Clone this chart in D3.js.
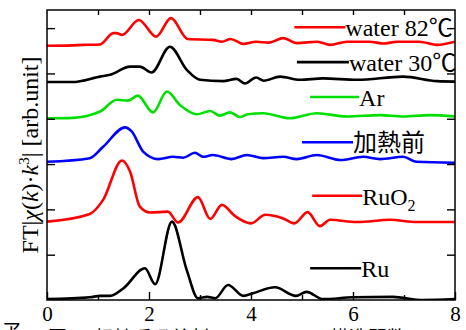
<!DOCTYPE html>
<html>
<head>
<meta charset="utf-8">
<script src="https://cdn.jsdelivr.net/npm/d3@7"></script>
<style>
  body { margin: 0; background: #fff; }
  svg { display: block; }
  text { font-family: "Liberation Serif", "Times New Roman", "Noto Sans CJK JP", serif; fill: #000; }
  .cjk { font-family: "Liberation Serif", "Noto Sans CJK JP", serif; }
</style>
</head>
<body>
<div id="chart"></div>
<script>
// r (Å) , FT magnitude (arb. unit, curves stacked with offsets as in the picture)
const water82 = [[0,5.61],[0.5,5.62],[0.71,5.63],[1.04,5.64],[1.3,5.89],[1.36,5.89],[1.47,5.85],[1.8,6.18],
  [2.14,5.81],[2.43,6.22],[2.76,5.76],[3.25,5.74],[3.43,5.7],[3.6,5.76],[3.85,5.65],[4.1,5.7],[4.35,5.68],
  [4.63,5.78],[4.9,5.67],[5.3,5.7],[5.55,5.63],[5.88,5.7],[6.33,5.7],[6.6,5.66],[6.86,5.7],[7.3,5.7],
  [7.65,5.63],[8,5.7]];
const water30 = [[0,4.81],[0.5,4.81],[1.04,4.93],[1.24,4.97],[1.63,5.15],[1.82,5.15],[2.05,5.02],[2.41,5.59],
  [2.74,5.08],[3.0,4.86],[3.45,4.83],[3.72,4.88],[3.88,4.78],[4.1,4.91],[4.25,4.84],[4.57,4.93],[4.96,4.86],
  [5.41,4.89],[6.08,4.86],[6.98,4.93],[7.65,4.83],[8,4.82]];
const argon = [[0,4.01],[0.5,4.02],[1.04,4.16],[1.37,4.42],[1.59,4.4],[1.78,4.51],[2.08,4.14],[2.35,4.6],
  [2.61,4.3],[2.94,4.1],[3.2,4.17],[3.39,4.07],[3.59,4.14],[3.78,4.04],[3.94,4.1],[4.24,4.12],[4.76,4.01],
  [5.29,4.12],[5.88,4.05],[6.53,4.08],[6.98,4.05],[7.5,4.08],[8,4.05]];
const beforeHeat = [[0,3.05],[0.84,3.13],[1.1,3.38],[1.53,3.81],[1.66,3.72],[1.89,3.27],[2.18,3.11],[2.47,3.16],
  [2.67,3.14],[2.9,3.25],[3.06,3.16],[3.25,3.2],[3.62,3.11],[3.92,3.2],[4.24,3.13],[4.63,3.16],[4.9,3.11],
  [5.29,3.2],[5.75,3.09],[6.2,3.16],[6.53,3.11],[6.98,3.16],[7.25,3.05],[8,3.03]];
const ruo2 = [[0,1.73],[0.84,1.9],[1.1,2.21],[1.47,3.08],[1.63,2.83],[1.82,2.06],[2.02,1.93],[2.37,1.95],
  [2.57,1.71],[2.96,2.27],[3.2,1.79],[3.43,2.1],[3.69,1.85],[4.0,1.69],[4.28,1.88],[4.63,1.8],[4.85,1.69],
  [5.11,1.94],[5.35,1.63],[5.55,1.77],[6.08,1.72],[6.73,1.77],[7.25,1.72],[8,1.72]];
const ru = [[0,0.02],[0.84,0.06],[1.04,0.09],[1.24,0.09],[1.5,0.26],[1.92,0.7],[2.12,0.35],[2.45,1.73],
  [2.74,0.66],[2.96,0.04],[3.14,0.07],[3.3,0.04],[3.55,0.33],[3.85,0.09],[4.04,0.15],[4.47,0.28],[4.88,0.09],
  [5.09,0.18],[5.41,0.02],[6.0,0.06],[6.78,0.07],[7.37,0.0],[8,0.02]];

const seriesNames = ['water 82℃', 'water 30℃', 'Ar', '加熱前', 'RuO2', 'Ru'];
const seriesData = [water82, water30, argon, beforeHeat, ruo2, ru];
const seriesColors = ['#ff0000', '#000000', '#00e000', '#0000ff', '#ff0000', '#000000'];
// where each legend sample sits: [x start, x end, y] in data units
const legendPos = [[4.85, 5.85, 6.02], [4.9, 5.92, 5.25], [5.16, 6.12, 4.48], [5.0, 6.0, 3.48], [5.2, 6.18, 2.3], [5.16, 6.16, 0.7]];
const xTicks = [0, 2, 4, 6, 8];
const xMinor = [1, 3, 5, 7];
const yTicks = [1, 2, 3, 4, 5, 6];

const width = 466, height = 330;
const margin = { top: 10, right: 11, bottom: 30, left: 47 };

const svg = d3.select('#chart').append('svg')
  .attr('width', width).attr('height', height);

const x = d3.scaleLinear().domain([0, 8]).range([margin.left, width - margin.right]);
const y = d3.scaleLinear().domain([0, 6.4]).range([height - margin.bottom, margin.top]);

svg.append('defs').append('clipPath').attr('id', 'plot')
  .append('rect').attr('x', x(0)).attr('y', y(6.4))
  .attr('width', x(8) - x(0)).attr('height', y(0) - y(6.4));

// curves
const line = d3.line().x(d => x(d[0])).y(d => y(d[1])).curve(d3.curveMonotoneX);
svg.append('g').attr('clip-path', 'url(#plot)')
  .selectAll('path').data(seriesData).enter().append('path')
  .attr('d', line)
  .attr('fill', 'none')
  .attr('stroke', (d, i) => seriesColors[i])
  .attr('stroke-width', 2.6)
  .attr('stroke-linejoin', 'round');

// axes, ticks pointing inward
const styleAxis = g => {
  g.select('.domain').remove();
  g.selectAll('.tick line').attr('stroke', '#000').attr('stroke-width', 1.4);
};
svg.append('g').attr('transform', `translate(0,${y(0)})`)
  .call(d3.axisBottom(x).tickValues(xTicks).tickSize(-8).tickPadding(14).tickFormat(d3.format('d')))
  .call(styleAxis)
  .call(g => g.selectAll('text').attr('font-size', 21).attr('fill', '#000')
    .attr('dy', null).attr('y', 21).attr('font-family', '"Liberation Serif", serif'));
svg.append('g').attr('transform', `translate(0,${y(0)})`)
  .call(d3.axisBottom(x).tickValues(xMinor).tickSize(-5).tickFormat(''))
  .call(styleAxis);
svg.append('g').attr('transform', `translate(0,${y(6.4)})`)
  .call(d3.axisTop(x).tickValues(d3.range(1, 8)).tickSize(-5).tickFormat(''))
  .call(styleAxis);
svg.append('g').attr('transform', `translate(${x(0)},0)`)
  .call(d3.axisLeft(y).tickValues(yTicks).tickSize(-8).tickFormat(''))
  .call(styleAxis);
svg.append('g').attr('transform', `translate(${x(8)},0)`)
  .call(d3.axisRight(y).tickValues(yTicks).tickSize(-8).tickFormat(''))
  .call(styleAxis);

svg.append('rect')
  .attr('x', x(0)).attr('y', y(6.4))
  .attr('width', x(8) - x(0)).attr('height', y(0) - y(6.4))
  .attr('fill', 'none').attr('stroke', '#000').attr('stroke-width', 1.5);

// legend labels next to their curves
const leg = svg.append('g').selectAll('g').data(seriesNames).enter().append('g');
leg.append('line')
  .attr('x1', (d, i) => x(legendPos[i][0])).attr('x2', (d, i) => x(legendPos[i][1]))
  .attr('y1', (d, i) => y(legendPos[i][2])).attr('y2', (d, i) => y(legendPos[i][2]))
  .attr('stroke', (d, i) => seriesColors[i]).attr('stroke-width', 2.6);
leg.append('text')
  .attr('x', (d, i) => x(legendPos[i][1]))
  .attr('y', (d, i) => y(legendPos[i][2]) + 9)
  .attr('font-size', 24)
  .each(function (d) {
    const t = d3.select(this);
    if (d === 'RuO2') {
      t.append('tspan').text('RuO');
      t.append('tspan').attr('font-size', 16).attr('dy', 6).text('2');
    } else {
      t.text(d);
    }
  });

// y axis title
const yt = svg.append('text')
  .attr('transform', 'translate(38,155) rotate(-90)')
  .attr('text-anchor', 'middle')
  .attr('font-size', 24);
yt.append('tspan').text('FT|');
yt.append('tspan').attr('font-style', 'italic').text('χ');
yt.append('tspan').text('(');
yt.append('tspan').attr('font-style', 'italic').text('k');
yt.append('tspan').text(')·');
yt.append('tspan').attr('font-style', 'italic').text('k');
yt.append('tspan').attr('font-size', 15).attr('dy', -9).text('3');
yt.append('tspan').attr('dy', 9).text('| [arb.unit]');

// caption, cut off by the page edge as in the scan
const cap = svg.append('g').attr('font-size', 19).attr('class', 'cjk');
cap.append('text').attr('x', 48).attr('y', 345).text('図２');
cap.append('text').attr('x', 95).attr('y', 345).text('担持系吸着剤の');
cap.append('text').attr('x', 233).attr('y', 345).attr('textLength', 87).text('ＥＸＡＦＳ');
cap.append('text').attr('x', 330).attr('y', 345).text('構造関数');
cap.append('text').attr('x', 2).attr('y', 337).text('ア');
</script>
</body>
</html>
